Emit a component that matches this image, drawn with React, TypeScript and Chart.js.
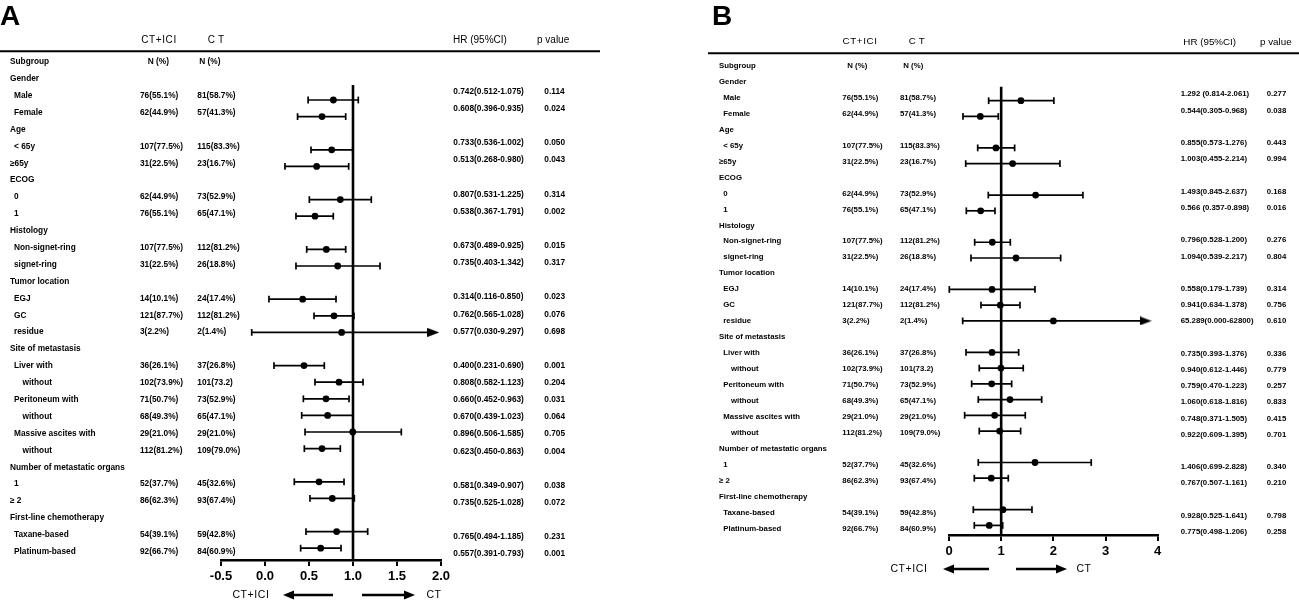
import React, { useEffect, useRef } from "react";
import { Chart, registerables } from "chart.js";
Chart.register(...registerables);

const FONT = '"Liberation Sans", Arial, sans-serif';

// ---------- shared table data ----------
const subgroupLabels = [
  "Subgroup", "Gender", "Male", "Female", "Age", "< 65y", "≥65y", "ECOG", "0", "1",
  "Histology", "Non-signet-ring", "signet-ring", "Tumor location", "EGJ", "GC", "residue",
  "Site of metastasis", "Liver with", "without", "Peritoneum with", "without",
  "Massive ascites with", "without", "Number of metastatic organs", "1", "≥ 2",
  "First-line chemotherapy", "Taxane-based", "Platinum-based",
];
const indentLevels = [0, 0, 1, 1, 0, 1, 0, 0, 1, 1, 0, 1, 1, 0, 1, 1, 1, 0, 1, 2, 1, 2, 1, 2, 0, 1, 0, 0, 1, 1];
const ctIciN = [
  "N (%)", "", "76(55.1%)", "62(44.9%)", "", "107(77.5%)", "31(22.5%)", "", "62(44.9%)", "76(55.1%)",
  "", "107(77.5%)", "31(22.5%)", "", "14(10.1%)", "121(87.7%)", "3(2.2%)",
  "", "36(26.1%)", "102(73.9%)", "71(50.7%)", "68(49.3%)", "29(21.0%)", "112(81.2%)",
  "", "52(37.7%)", "86(62.3%)", "", "54(39.1%)", "92(66.7%)",
];
const ctN = [
  "N (%)", "", "81(58.7%)", "57(41.3%)", "", "115(83.3%)", "23(16.7%)", "", "73(52.9%)", "65(47.1%)",
  "", "112(81.2%)", "26(18.8%)", "", "24(17.4%)", "112(81.2%)", "2(1.4%)",
  "", "37(26.8%)", "101(73.2)", "73(52.9%)", "65(47.1%)", "29(21.0%)", "109(79.0%)",
  "", "45(32.6%)", "93(67.4%)", "", "59(42.8%)", "84(60.9%)",
];
// row index (in subgroupLabels) of every plotted estimate
const dataRows = [2, 3, 5, 6, 8, 9, 11, 12, 14, 15, 16, 18, 19, 20, 21, 22, 23, 25, 26, 28, 29];
// index (in data arrays) of CIs that run off the axis (drawn with an arrow)
const arrowIdx = [10];

// ---------- panel A ----------
const hrTextA = [
  "0.742(0.512-1.075)", "0.608(0.396-0.935)", "0.733(0.536-1.002)", "0.513(0.268-0.980)",
  "0.807(0.531-1.225)", "0.538(0.367-1.791)", "0.673(0.489-0.925)", "0.735(0.403-1.342)",
  "0.314(0.116-0.850)", "0.762(0.565-1.028)", "0.577(0.030-9.297)", "0.400(0.231-0.690)",
  "0.808(0.582-1.123)", "0.660(0.452-0.963)", "0.670(0.439-1.023)", "0.896(0.506-1.585)",
  "0.623(0.450-0.863)", "0.581(0.349-0.907)", "0.735(0.525-1.028)", "0.765(0.494-1.185)",
  "0.557(0.391-0.793)",
];
const pTextA = ["0.114", "0.024", "0.050", "0.043", "0.314", "0.002", "0.015", "0.317", "0.023", "0.076", "0.698",
  "0.001", "0.204", "0.031", "0.064", "0.705", "0.004", "0.038", "0.072", "0.231", "0.001"];
const pointA = [0.777, 0.648, 0.758, 0.587, 0.856, 0.568, 0.697, 0.826, 0.428, 0.784, 0.871,
  0.443, 0.841, 0.693, 0.712, 0.997, 0.648, 0.614, 0.765, 0.814, 0.633];
const lowA = [0.49, 0.37, 0.523, 0.227, 0.504, 0.352, 0.474, 0.352, 0.045, 0.557, -0.151,
  0.102, 0.568, 0.436, 0.417, 0.455, 0.447, 0.333, 0.511, 0.466, 0.405];
const highA = [1.06, 0.917, 0.997, 0.951, 1.208, 0.776, 0.917, 1.307, 0.807, 1.011, 1.913,
  0.674, 1.114, 0.955, 1.0, 1.549, 0.856, 0.898, 1.015, 1.167, 0.864];

// ---------- panel B ----------
const hrTextB = [
  "1.292 (0.814-2.061)", "0.544(0.305-0.968)", "0.855(0.573-1.276)", "1.003(0.455-2.214)",
  "1.493(0.845-2.637)", "0.566 (0.357-0.898)", "0.796(0.528-1.200)", "1.094(0.539-2.217)",
  "0.558(0.179-1.739)", "0.941(0.634-1.378)", "65.289(0.000-62800)", "0.735(0.393-1.376)",
  "0.940(0.612-1.446)", "0.759(0.470-1.223)", "1.060(0.618-1.816)", "0.748(0.371-1.505)",
  "0.922(0.609-1.395)", "1.406(0.699-2.828)", "0.767(0.507-1.161)", "0.928(0.525-1.641)",
  "0.775(0.498-1.206)",
];
const pTextB = ["0.277", "0.038", "0.443", "0.994", "0.168", "0.016", "0.276", "0.804", "0.314", "0.756", "0.610",
  "0.336", "0.779", "0.257", "0.833", "0.415", "0.701", "0.340", "0.210", "0.798", "0.258"];
const pointB = [1.379, 0.6, 0.9, 1.22, 1.66, 0.607, 0.83, 1.284, 0.824, 0.983, 2.0,
  0.824, 0.996, 0.818, 1.169, 0.875, 0.97, 1.648, 0.81, 1.034, 0.772];
const lowB = [0.76, 0.268, 0.55, 0.32, 0.753, 0.332, 0.492, 0.421, 0.006, 0.613, 0.262,
  0.326, 0.58, 0.434, 0.561, 0.3, 0.58, 0.561, 0.485, 0.466, 0.485];
const highB = [2.01, 0.945, 1.258, 2.126, 2.567, 0.881, 1.175, 2.14, 1.648, 1.36, 3.768,
  1.335, 1.423, 1.201, 1.776, 1.462, 1.373, 2.726, 1.136, 1.59, 1.029];

// ---------- layout (styles) ----------
type Panel = any;
const panels: Panel[] = [
  {
    letter: "A", canvasLeft: 0, canvasWidth: 640, xMin: -0.5, xMax: 2, step: 0.5, decimals: 1, refX: 1,
    plotLeft: 221, plotRight: 441, rowPx: 100, rowStep: 16.6, axisY: 560, refTopY: 85,
    font: 8.3, headFont: 10, nDy: -4.3, nSlope: 0.29, hrDy: -8.3, hrSlope: 0.52,
    letterX: 0, headY: 40.7, hrHeadY: 40, ctIciHeadX: 159, ctHeadX: 216, hrHeadX: 453, pHeadX: 537,
    ruleY: 51.3, ruleX0: 0, ruleX1: 600, subX: [10, 14, 22.5], n1X: 140, n2X: 197.3, nHead1X: 147.7, nHead2X: 199.3,
    hrX: 453.3, pX: 544.3,
    botY: 595, botLeftLabelX: 251, leftTail: 333, leftTip: 283, rightTail: 362, rightTip: 415, botRightLabelX: 434,
    point: pointA, low: lowA, high: highA, hr: hrTextA, p: pTextA,
  },
  {
    letter: "B", canvasLeft: 640, canvasWidth: 659, xMin: 0, xMax: 4, step: 1, decimals: 0, refX: 1,
    plotLeft: 949, plotRight: 1157.7, rowPx: 100.7, rowStep: 15.73, axisY: 535, refTopY: 86.7,
    font: 7.8, headFont: 9.8, nDy: -3.0, nSlope: 0.23, hrDy: -6.4, hrSlope: 0.48,
    letterX: 712, headY: 41.7, hrHeadY: 42.7, ctIciHeadX: 860, ctHeadX: 916.7, hrHeadX: 1183.3, pHeadX: 1260,
    ruleY: 53.3, ruleX0: 708, ruleX1: 1299, subX: [719, 723.3, 731], n1X: 842.3, n2X: 900, nHead1X: 847.3, nHead2X: 903.3,
    hrX: 1180.7, pX: 1266.7,
    botY: 569, botLeftLabelX: 909, leftTail: 989, leftTip: 943, rightTail: 1016, rightTip: 1067, botRightLabelX: 1084,
    point: pointB, low: lowB, high: highB, hr: hrTextB, p: pTextB,
  },
];

function makeArrowHead(): HTMLCanvasElement {
  const c = document.createElement("canvas");
  c.width = 12;
  c.height = 9;
  const g = c.getContext("2d")!;
  g.fillStyle = "#000";
  g.beginPath();
  g.moveTo(12, 4.5);
  g.lineTo(0, 0);
  g.lineTo(0, 9);
  g.closePath();
  g.fill();
  return c;
}

function buildChart(canvas: HTMLCanvasElement, p: Panel): Chart {
  const H = 600;
  const yMin = -1;
  const topPx = p.rowPx + (yMin - 2) * p.rowStep;
  const yMax = 2 + (p.axisY - p.rowPx) / p.rowStep;
  const refTop = 2 + (p.refTopY - p.rowPx) / p.rowStep;
  const head = makeArrowHead();

  const datasets: any[] = [];
  // reference line at HR = 1
  datasets.push({
    data: [{ x: p.refX, y: refTop }, { x: p.refX, y: yMax }],
    showLine: true, borderColor: "#000", borderWidth: 2.6, pointRadius: 0, clip: false,
  });
  // confidence intervals
  dataRows.forEach((row, k) => {
    const isArrow = arrowIdx.includes(k);
    datasets.push({
      data: [{ x: p.low[k], y: row }, { x: p.high[k], y: row }],
      showLine: true, borderColor: "#000", borderWidth: 1.7, clip: false,
      pointStyle: ["line", isArrow ? head : "line"],
      pointRotation: [90, isArrow ? 0 : 90],
      pointRadius: 3.4, pointBorderWidth: 1.7,
      pointBorderColor: "#000", pointBackgroundColor: "#000",
    });
  });
  // point estimates
  datasets.push({
    data: dataRows.map((row, k) => ({ x: p.point[k], y: row })),
    pointRadius: 3.4, pointBackgroundColor: "#000", pointBorderColor: "#000", pointBorderWidth: 0, clip: false,
  });

  const L = p.canvasLeft;
  const textPlugin = {
    id: "forestText" + p.letter,
    afterDraw(chart: any) {
      const ctx: CanvasRenderingContext2D = chart.ctx;
      const ys = chart.scales.y;
      ctx.save();
      ctx.fillStyle = "#000";
      ctx.strokeStyle = "#000";
      // panel letter
      ctx.font = `bold 28px ${FONT}`;
      ctx.textAlign = "left";
      ctx.textBaseline = "alphabetic";
      ctx.fillText(p.letter, p.letterX - L, 25);
      // column headers
      ctx.font = `${p.headFont}px ${FONT}`;
      ctx.textBaseline = "middle";
      ctx.textAlign = "center";
      (ctx as any).letterSpacing = "0.6px";
      ctx.fillText("CT+ICI", p.ctIciHeadX - L, p.headY);
      (ctx as any).letterSpacing = "3px";
      ctx.fillText("CT", p.ctHeadX - L + 1.5, p.headY);
      (ctx as any).letterSpacing = "0px";
      ctx.textAlign = "left";
      ctx.fillText("HR (95%CI)", p.hrHeadX - L, p.hrHeadY);
      ctx.fillText("p value", p.pHeadX - L, p.hrHeadY);
      // rule
      ctx.lineWidth = 2;
      ctx.beginPath();
      ctx.moveTo(p.ruleX0 - L, p.ruleY);
      ctx.lineTo(p.ruleX1 - L, p.ruleY);
      ctx.stroke();
      // rows
      ctx.font = `bold ${p.font}px ${FONT}`;
      subgroupLabels.forEach((lab, i) => {
        const y = ys.getPixelForValue(i) + p.nDy + p.nSlope * (i - 2);
        ctx.fillText(lab, p.subX[indentLevels[i]] - L, y);
        if (i === 0) {
          ctx.fillText(ctIciN[i], p.nHead1X - L, y);
          ctx.fillText(ctN[i], p.nHead2X - L, y);
        } else {
          if (ctIciN[i]) ctx.fillText(ctIciN[i], p.n1X - L, y);
          if (ctN[i]) ctx.fillText(ctN[i], p.n2X - L, y);
        }
      });
      dataRows.forEach((row, k) => {
        const y = ys.getPixelForValue(row) + p.hrDy + p.hrSlope * (row - 2);
        ctx.fillText(p.hr[k], p.hrX - L, y);
        ctx.fillText(p.p[k], p.pX - L, y);
      });
      // direction arrows
      ctx.font = `10.5px ${FONT}`;
      ctx.textAlign = "center";
      (ctx as any).letterSpacing = "0.6px";
      ctx.fillText("CT+ICI", p.botLeftLabelX - L, p.botY);
      ctx.fillText("CT", p.botRightLabelX - L, p.botY);
      (ctx as any).letterSpacing = "0px";
      const arrow = (x0: number, x1: number, y: number) => {
        const dir = Math.sign(x1 - x0);
        const hx = x1 - dir * 11;
        ctx.lineWidth = 2.6;
        ctx.beginPath();
        ctx.moveTo(x0 - L, y);
        ctx.lineTo(hx - L, y);
        ctx.stroke();
        ctx.beginPath();
        ctx.moveTo(x1 - L, y);
        ctx.lineTo(hx - L, y - 4.5);
        ctx.lineTo(hx - L, y + 4.5);
        ctx.closePath();
        ctx.fill();
      };
      arrow(p.leftTail, p.leftTip, p.botY);
      arrow(p.rightTail, p.rightTip, p.botY);
      ctx.restore();
    },
  };

  return new Chart(canvas, {
    type: "scatter",
    data: { datasets },
    options: {
      animation: false,
      responsive: false,
      devicePixelRatio: 1,
      events: [],
      layout: {
        padding: {
          left: p.plotLeft - L,
          right: L + p.canvasWidth - p.plotRight,
          top: topPx,
          bottom: 0,
        },
      },
      plugins: { legend: { display: false }, tooltip: { enabled: false } },
      scales: {
        x: {
          type: "linear",
          position: "bottom",
          min: p.xMin,
          max: p.xMax,
          ticks: {
            stepSize: p.step,
            autoSkip: false,
            maxRotation: 0,
            color: "#000",
            padding: 3,
            font: { family: FONT, size: 13, weight: "bold" },
            callback: (v: any) => Number(v).toFixed(p.decimals),
          },
          grid: { display: true, drawOnChartArea: false, drawTicks: true, tickLength: 6, color: "#000", lineWidth: 2 },
          border: { display: true, color: "#000", width: 2.6 },
          afterFit: (s: any) => {
            s.height = H - p.axisY;
          },
        },
        y: { type: "linear", display: false, reverse: true, min: yMin, max: yMax },
      },
    } as any,
    plugins: [textPlugin],
  });
}

export default function App() {
  const refA = useRef<HTMLCanvasElement>(null);
  const refB = useRef<HTMLCanvasElement>(null);
  useEffect(() => {
    const charts: Chart[] = [];
    if (refA.current) charts.push(buildChart(refA.current, panels[0]));
    if (refB.current) charts.push(buildChart(refB.current, panels[1]));
    return () => charts.forEach((c) => c.destroy());
  }, []);
  return (
    <div style={{ position: "absolute", left: 0, top: 0, width: 1299, height: 600, background: "#fff", overflow: "hidden" }}>
      <canvas ref={refA} width={640} height={600} style={{ position: "absolute", left: 0, top: 0, width: 640, height: 600 }} />
      <canvas ref={refB} width={659} height={600} style={{ position: "absolute", left: 640, top: 0, width: 659, height: 600 }} />
    </div>
  );
}
